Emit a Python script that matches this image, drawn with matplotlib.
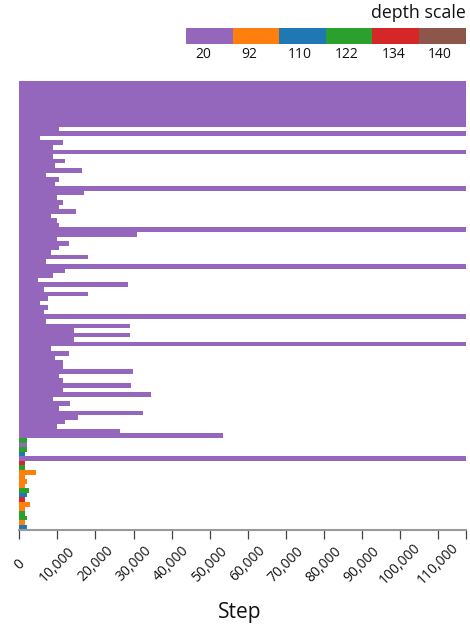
import matplotlib
matplotlib.use("Agg")
import matplotlib.pyplot as plt
from matplotlib.ticker import FuncFormatter, FixedLocator

plt.rcParams['font.family'] = ['Open Sans', 'DejaVu Sans']

FULL = 117200
steps = ([FULL] * 10 +
         [10420, FULL, 5430, 11470, 8850, FULL, 8850, 12000, 9370, 16460,
          7010, 10420, 9370, FULL, 16980, 9900, 11470, 10420, 14880, 8320,
          9900, 10420, FULL, 30900, 9900, 13050, 10420, 8320, 18030, 7010,
          FULL, 12000, 8850, 4910, 28530, 6480, 18030, 7530, 5430, 7530,
          6480, FULL, 7010, 29060, 14360, 29060, 14360, FULL, 8320, 13050,
          9370, 11470, 11470, 29850, 10420, 11470, 29320, 11470, 34570, 8850,
          13310, 10420, 32470, 15410, 12000, 9900, 26430, 53470,
          2020, 2020, 2020, 1500, FULL, 1500, 1500, 4380, 1500, 2020,
          1500, 2550, 2020, 1500, 2810, 1500, 1500, 2020, 1500, 2020])
depths = ([20] * 78 +
          [122, 20, 122, 110, 20, 134, 122, 92, 92, 92,
           92, 122, 110, 134, 92, 92, 122, 122, 92, 110])

scale_values = [20, 92, 110, 122, 134, 140]
scale_colors = ['#9467bd', '#ff7f0e', '#1f77b4', '#2ca02c', '#d62728', '#8c564b']
color_of = dict(zip(scale_values, scale_colors))

xticks = list(range(0, 110001, 10000))

W, H = 470, 629
fig = plt.figure(figsize=(W / 100, H / 100), dpi=100)

x0, x1 = 19.3, 465.7
y_top, y_bot = 81, 529.5
ax = fig.add_axes([x0 / W, 1 - y_bot / H, (x1 - x0) / W, (y_bot - y_top) / H])

n = len(steps)
ax.barh(range(n), steps, height=1.0, color=[color_of[d] for d in depths],
        linewidth=0)
ax.set_ylim(n - 0.5, -0.5)
ax.set_xlim(0, FULL)

for s in ['top', 'right', 'left']:
    ax.spines[s].set_visible(False)
ax.spines['bottom'].set_color('#999999')
ax.spines['bottom'].set_linewidth(1.5)
ax.set_yticks([])
ax.set_xticks(xticks)
ax.xaxis.set_minor_locator(FixedLocator([FULL]))
ax.xaxis.set_major_formatter(FuncFormatter(lambda v, p: f"{int(v):,}"))
ax.tick_params(axis='x', which='both', length=6.5, width=0.9, color='#444444')
ax.tick_params(axis='x', which='major', labelsize=10, pad=18.5,
               labelcolor='#111111')
for lab in ax.get_xticklabels():
    lab.set_rotation(45)
    lab.set_ha('center')
    lab.set_va('center')

fig.text(240 / W, 1 - 618 / H, 'Step', ha='center', va='baseline',
         fontsize=15, color='#111111')

# legend
lx0, lx1 = 186, 465.7
ly0, ly1 = 28, 43.7
lax = fig.add_axes([lx0 / W, 1 - ly1 / H, (lx1 - lx0) / W, (ly1 - ly0) / H])
k = len(scale_values)
lax.bar(range(k), [1] * k, width=1.0, color=scale_colors, linewidth=0)
lax.set_xlim(-0.5, k - 0.5)
lax.set_ylim(0, 1)
lax.axis('off')
for i, v in enumerate(scale_values):
    fig.text((lx0 + (lx1 - lx0) * i / k + 9) / W, 1 - 58.5 / H, str(v),
             ha='left', va='baseline', fontsize=10, color='#111111')
fig.text(465.5 / W, 1 - 17.5 / H, 'depth scale', ha='right', va='baseline',
         fontsize=12.8, color='#111111')

fig.savefig('out.png', dpi=100)
